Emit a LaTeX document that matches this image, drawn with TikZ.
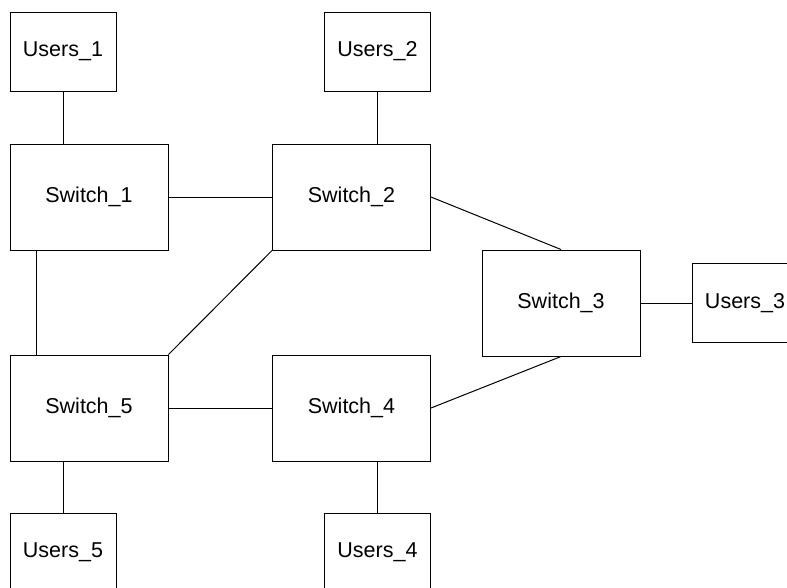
\documentclass[tikz,border=0pt]{standalone}
\usepackage{fontspec}
\setmainfont{Liberation Sans}
\begin{document}
\begin{tikzpicture}[x=1pt, y=-1pt, line width=1pt,
  users/.style={draw, minimum width=106pt, minimum height=79pt, inner sep=0pt, font=\fontsize{21.5}{26}\selectfont},
  switchbox/.style={draw, minimum width=158pt, minimum height=106pt, inner sep=0pt, font=\fontsize{21.5}{26}\selectfont}]
\useasboundingbox (0,0) rectangle (787,587);
\node[users] (u1) at (63,51.5) {Users\_1};
\node[users] (u2) at (377.5,51.5) {Users\_2};
\node[users] (u3) at (745,303) {Users\_3};
\node[users] (u4) at (377.5,552.5) {Users\_4};
\node[users] (u5) at (63,552.5) {Users\_5};
\node[switchbox] (s1) at (89,197) {Switch\_1};
\node[switchbox] (s2) at (351.5,197) {Switch\_2};
\node[switchbox] (s3) at (561,303) {Switch\_3};
\node[switchbox] (s4) at (351.5,408) {Switch\_4};
\node[switchbox] (s5) at (89,408) {Switch\_5};
\draw (u1.south) -- (u1.south |- s1.north);
\draw (u2.south) -- (u2.south |- s2.north);
\draw (u5.north) -- (u5.north |- s5.south);
\draw (u4.north) -- (u4.north |- s4.south);
\draw (s3.east) -- (u3.west);
\draw (s1.east) -- (s2.west);
\draw (s5.east) -- (s4.west);
\draw ([xshift=27pt]s1.south west) -- ([xshift=27pt]s5.north west);
\draw (s2.south west) -- (s5.north east);
\draw (s2.east) -- (s3.north);
\draw (s4.east) -- (s3.south);
\end{tikzpicture}
\end{document}
